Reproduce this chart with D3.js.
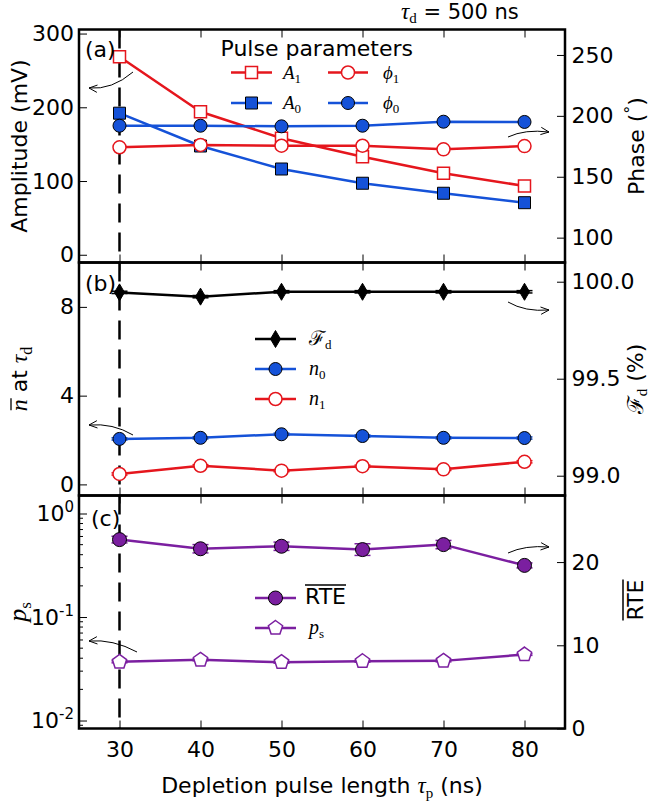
<!DOCTYPE html>
<html><head><meta charset="utf-8">
<script src="https://cdn.jsdelivr.net/npm/d3@7"></script>
<style>body{margin:0;background:#fff}svg{display:block}</style>
</head><body>
<script>
// ---------------- DATA ----------------
const taus = [30, 40, 50, 60, 70, 80];            // depletion pulse length (ns)
const xTicks = [30, 40, 50, 60, 70, 80];
// panel (a)
const A1   = [268.6, 194, 158, 133, 110.5, 93.3];  // mV
const A0   = [192, 147.5, 116.3, 97, 83.4, 70.6];  // mV
const phi1 = [174.2, 176.1, 175.5, 175.5, 172.5, 175.2]; // deg
const phi0 = [191.9, 191.9, 191.4, 191.9, 195.2, 195.0]; // deg
const ampTicks = [0, 100, 200, 300];
const phaseTicks = [100, 150, 200, 250];
// panel (b)
const Fd    = [99.945, 99.923, 99.948, 99.948, 99.948, 99.948]; // %
const FdErr = [0.006, 0.006, 0.006, 0.006, 0.006, 0.006];
const n0    = [2.05, 2.10, 2.26, 2.18, 2.10, 2.09];
const n0Err = [0.05, 0.05, 0.05, 0.05, 0.05, 0.05];
const n1    = [0.47, 0.84, 0.62, 0.82, 0.68, 1.02];
const n1Err = [0.05, 0.05, 0.05, 0.05, 0.05, 0.05];
const nTicks = [0, 4, 8];
const fdTicks = [99.0, 99.5, 100.0];
// panel (c)
const RTE    = [22.7, 21.6, 21.9, 21.5, 22.1, 19.6];
const RTEErr = [0.4, 0.5, 0.5, 0.7, 0.5, 0.3];
const ps     = [0.0369, 0.0386, 0.0366, 0.0374, 0.0377, 0.0434];
const psErr  = [0.0008, 0.0008, 0.0008, 0.0008, 0.0008, 0.0008];
const psTicks = [0.01, 0.1, 1];
const psTickExp = ["-2", "-1", "0"];
const rteTicks = [0, 10, 20];

// ---------------- SETUP ----------------
const W = 648, H = 806;
const SANS = "'DejaVu Sans', sans-serif";
const SERIF = "'Liberation Serif', 'DejaVu Serif', serif";
const RED = "#e5161d", BLUE = "#1552d8", PURPLE = "#7b1fa0";
const svg = d3.select("body").append("svg").attr("width", W).attr("height", H);

const L = 79, R = 565;
const P = { a: [29.5, 262.5], b: [262.5, 495.5], c: [495.5, 728.5] };
const x = d3.scaleLinear().domain([25, 85]).range([L, R]);
const yA  = d3.scaleLinear().domain([-10.5, 305.5]).range([P.a[1], P.a[0]]);
const yPh = d3.scaleLinear().domain([79.6, 270.9]).range([P.a[1], P.a[0]]);
const yN  = d3.scaleLinear().domain([-0.5, 10]).range([P.b[1], P.b[0]]);
const yF  = d3.scaleLinear().domain([98.898, 100.099]).range([P.b[1], P.b[0]]);
const yP  = d3.scaleLog().domain([Math.pow(10, -2.077), Math.pow(10, 0.174)]).range([P.c[1], P.c[0]]);
const yR  = d3.scaleLinear().domain([0, 28]).range([P.c[1], P.c[0]]);

const sq = d3.symbol(d3.symbolSquare, 12 * 12)();
const circ = d3.symbol(d3.symbolCircle, Math.PI * 6.5 * 6.5)();
const circL = d3.symbol(d3.symbolCircle, Math.PI * 7 * 7)();
const thinDiamond = "M0,-8.5L5,0L0,8.5L-5,0Z";
const pent = "M" + d3.range(5).map(i => {
  const a = -Math.PI / 2 + i * 2 * Math.PI / 5;
  return [7.5 * Math.cos(a), 7.5 * Math.sin(a)].join(",");
}).join("L") + "Z";

const styles = {
  A1:   { color: RED,    shape: sq,    fill: "#fff", edge: RED,   ew: 1.5 },
  A0:   { color: BLUE,   shape: sq,    fill: BLUE,   edge: "#000", ew: 1 },
  phi1: { color: RED,    shape: circ,  fill: "#fff", edge: RED,   ew: 1.5 },
  phi0: { color: BLUE,   shape: circ,  fill: BLUE,   edge: "#000", ew: 1 },
  Fd:   { color: "#000", shape: thinDiamond, fill: "#000", edge: "#000", ew: 1 },
  n0:   { color: BLUE,   shape: circ,  fill: BLUE,   edge: "#000", ew: 1 },
  n1:   { color: RED,    shape: circ,  fill: "#fff", edge: RED,   ew: 1.5 },
  RTE:  { color: PURPLE, shape: circL, fill: PURPLE, edge: "#000", ew: 1 },
  ps:   { color: PURPLE, shape: pent,  fill: "#fff", edge: PURPLE, ew: 1.5 }
};

// ---------------- helpers ----------------
function mtext(parent, parts, attrs) {
  const t = parent.append("text");
  Object.entries(attrs || {}).forEach(([k, v]) => t.attr(k, v));
  let cur = 0;
  parts.forEach(p => {
    const ts = t.append("tspan").text(p.t)
      .attr("font-size", p.s || 22)
      .attr("font-family", p.f === "sans" ? SANS : SERIF)
      .attr("font-style", p.i ? "italic" : "normal");
    const target = p.sub ? p.sub : (p.sup ? -p.sup : 0);
    if (target !== cur) { ts.attr("dy", target - cur); cur = target; }
  });
  return t;
}

function drawSeries(ys, vals, errs, st) {
  const g = svg.append("g");
  const pts = taus.map((t, i) => [x(t), ys(vals[i])]);
  g.append("path").attr("d", d3.line()(pts)).attr("fill", "none")
    .attr("stroke", st.color).attr("stroke-width", 2.5).attr("stroke-linejoin", "round");
  if (errs) {
    taus.forEach((t, i) => {
      const cx = x(t), y1 = ys(vals[i] - errs[i]), y2 = ys(vals[i] + errs[i]);
      g.append("line").attr("x1", cx).attr("x2", cx).attr("y1", y1).attr("y2", y2)
        .attr("stroke", st.color).attr("stroke-width", 1.5);
      [y1, y2].forEach(yy => g.append("line").attr("x1", cx - 8).attr("x2", cx + 8)
        .attr("y1", yy).attr("y2", yy).attr("stroke", st.color).attr("stroke-width", 1.5));
    });
  }
  g.selectAll(null).data(pts).join("path")
    .attr("transform", d => `translate(${d[0]},${d[1]})`)
    .attr("d", st.shape).attr("fill", st.fill).attr("stroke", st.edge).attr("stroke-width", st.ew);
}

function legendEntry(x0, x1, y, st, parts, lx) {
  svg.append("line").attr("x1", x0).attr("x2", x1).attr("y1", y).attr("y2", y)
    .attr("stroke", st.color).attr("stroke-width", 2.5);
  svg.append("path").attr("transform", `translate(${(x0 + x1) / 2},${y})`)
    .attr("d", st.shape).attr("fill", st.fill).attr("stroke", st.edge).attr("stroke-width", st.ew);
  return mtext(svg, parts, { x: lx, y: y + 6 });
}

function yAxis(scale, side, ticks, fmt) {
  const ax = (side === "left" ? d3.axisLeft(scale) : d3.axisRight(scale))
    .tickValues(ticks).tickSize(-8).tickPadding(side === "left" ? 5 : 6.5).tickFormat(fmt);
  const g = svg.append("g").attr("transform", `translate(${side === "left" ? L : R},0)`).call(ax);
  g.select(".domain").remove();
  g.selectAll("text").attr("font-family", SANS).attr("font-size", 22).attr("fill", "#000");
  g.selectAll("line").attr("stroke", "#000").attr("stroke-width", 1);
  return g;
}

function xAxes(top, bottom, labels) {
  const gt = svg.append("g").attr("transform", `translate(0,${top})`)
    .call(d3.axisTop(x).tickValues(xTicks).tickSize(-8).tickFormat(""));
  const gb = svg.append("g").attr("transform", `translate(0,${bottom})`)
    .call(d3.axisBottom(x).tickValues(xTicks).tickSize(-8).tickPadding(13)
      .tickFormat(labels ? d3.format("d") : ""));
  [gt, gb].forEach(g => {
    g.select(".domain").remove();
    g.selectAll("line").attr("stroke", "#000").attr("stroke-width", 1);
    g.selectAll("text").attr("font-family", SANS).attr("font-size", 22).attr("fill", "#000");
  });
}

function curvedArrow(t, c, h) {
  svg.append("path").attr("d", `M${t[0]},${t[1]}Q${c[0]},${c[1]} ${h[0]},${h[1]}`)
    .attr("fill", "none").attr("stroke", "#000").attr("stroke-width", 1);
  const ang = Math.atan2(h[1] - c[1], h[0] - c[0]);
  const len = 9, a = 0.42;
  const p1 = [h[0] - len * Math.cos(ang - a), h[1] - len * Math.sin(ang - a)];
  const p2 = [h[0] - len * Math.cos(ang + a), h[1] - len * Math.sin(ang + a)];
  svg.append("path").attr("d", `M${p1}L${h}L${p2}`).attr("fill", "none")
    .attr("stroke", "#000").attr("stroke-width", 1);
}

function rotLabel(cx, cy, parts) {
  const g = svg.append("g").attr("transform", `translate(${cx},${cy}) rotate(-90)`);
  const t = mtext(g, parts, { x: 0, y: 0, "text-anchor": "middle" });
  return { g, t };
}

// ---------------- axes ----------------
xAxes(P.a[0], P.a[1], false);
xAxes(P.b[0], P.b[1], false);
xAxes(P.c[0], P.c[1], true);

yAxis(yA, "left", ampTicks, d3.format("d"));
yAxis(yPh, "right", phaseTicks, d3.format("d"));
yAxis(yN, "left", nTicks, d3.format("d"));
yAxis(yF, "right", fdTicks, d3.format(".1f"));
yAxis(yR, "right", rteTicks, d3.format("d"));
const gLog = yAxis(yP, "left", psTicks, () => "");
gLog.selectAll(".tick text").each(function (d, i) {
  const t = d3.select(this);
  t.append("tspan").text("10").attr("font-size", 22);
  t.append("tspan").text(psTickExp[i]).attr("font-size", 15).attr("dy", -9);
});
// minor log ticks
const minor = yP.ticks().filter(v => !psTicks.some(m => Math.abs(m - v) < 1e-12));
svg.append("g").selectAll("line").data(minor).join("line")
  .attr("x1", L).attr("x2", L + 4).attr("y1", d => yP(d)).attr("y2", d => yP(d))
  .attr("stroke", "#000").attr("stroke-width", 1);

// ---------------- dashed line at tau_p = 30 ----------------
Object.values(P).forEach(([t0, t1]) => {
  svg.append("line").attr("x1", x(30)).attr("x2", x(30)).attr("y1", t0).attr("y2", t1)
    .attr("stroke", "#000").attr("stroke-width", 2.5).attr("stroke-dasharray", "19,10");
});

// ---------------- series ----------------
drawSeries(yA, A1, null, styles.A1);
drawSeries(yA, A0, null, styles.A0);
drawSeries(yPh, phi1, null, styles.phi1);
drawSeries(yPh, phi0, null, styles.phi0);

drawSeries(yN, n0, n0Err, styles.n0);
drawSeries(yN, n1, n1Err, styles.n1);
drawSeries(yF, Fd, FdErr, styles.Fd);

drawSeries(yP, ps, psErr, styles.ps);
drawSeries(yR, RTE, RTEErr, styles.RTE);

// ---------------- spines ----------------
Object.values(P).forEach(([t0, t1]) => {
  svg.append("rect").attr("x", L).attr("y", t0).attr("width", R - L).attr("height", t1 - t0)
    .attr("fill", "none").attr("stroke", "#000").attr("stroke-width", 2.5);
});

// ---------------- legends ----------------
svg.append("text").attr("x", 220.5).attr("y", 56).attr("font-family", SANS).attr("font-size", 22)
  .text("Pulse parameters");
legendEntry(231, 272, 72.5, styles.A1, [{ t: "A", i: true, s: 19 }, { t: "1", s: 13, sub: 4 }], 283);
legendEntry(328, 368, 72.5, styles.phi1, [{ t: "ϕ", i: true, s: 19 }, { t: "1", s: 13, sub: 4 }], 383);
legendEntry(231, 272, 103, styles.A0, [{ t: "A", i: true, s: 19 }, { t: "0", s: 13, sub: 4 }], 283);
legendEntry(328, 368, 103, styles.phi0, [{ t: "ϕ", i: true, s: 19 }, { t: "0", s: 13, sub: 4 }], 383);

legendEntry(255, 296, 339, styles.Fd, [{ t: "ℱ", s: 20 }, { t: "d", s: 13, sub: 4 }], 309);
legendEntry(255, 296, 369, styles.n0, [{ t: "n", i: true, s: 20 }, { t: "0", s: 13, sub: 4 }], 309);
legendEntry(255, 296, 399, styles.n1, [{ t: "n", i: true, s: 20 }, { t: "1", s: 13, sub: 4 }], 309);

const rteLeg = legendEntry(255, 296, 598, styles.RTE, [{ t: "RTE", f: "sans", s: 22 }], 305);
{
  const len = rteLeg.node().getComputedTextLength();
  svg.append("line").attr("x1", 305).attr("x2", 305 + len).attr("y1", 604 - 19).attr("y2", 604 - 19)
    .attr("stroke", "#000").attr("stroke-width", 1.5);
}
legendEntry(255, 296, 628, styles.ps, [{ t: "p", i: true, s: 20 }, { t: "s", s: 13, sub: 4 }], 309);

// ---------------- panel letters ----------------
[["(a)", 85, 57], ["(b)", 85, 290.5], ["(c)", 91, 525.5]].forEach(([s, xx, yy]) =>
  svg.append("text").attr("x", xx).attr("y", yy).attr("font-family", SANS).attr("font-size", 22).text(s));

// ---------------- title ----------------
mtext(svg, [{ t: "τ", i: true, s: 23 }, { t: "d", s: 15, sub: 4 }, { t: " = 500 ns", f: "sans", s: 21 }],
  { x: 401, y: 18.5 });

// ---------------- axis labels ----------------
rotLabel(26.5, (P.a[0] + P.a[1]) / 2, [{ t: "Amplitude (mV)", f: "sans", s: 22 }]);
rotLabel(643.5, (P.a[0] + P.a[1]) / 2, [{ t: "Phase (", f: "sans", s: 22 }, { t: "°", f: "sans", s: 16, sup: 8 }, { t: ")", f: "sans", s: 22 }]);
{
  const { g, t } = rotLabel(27, (P.b[0] + P.b[1]) / 2,
    [{ t: "n", i: true, s: 24 }, { t: " at ", f: "sans", s: 22 }, { t: "τ", i: true, s: 24 }, { t: "d", s: 16, sub: 5 }]);
  const n = t.node();
  const s0 = n.getStartPositionOfChar(0).x, e0 = n.getEndPositionOfChar(0).x;
  g.append("line").attr("x1", s0 + 1).attr("x2", e0 + 1).attr("y1", -16).attr("y2", -16)
    .attr("stroke", "#000").attr("stroke-width", 1.3);
}
rotLabel(642.5, (P.b[0] + P.b[1]) / 2, [{ t: "ℱ", s: 22 }, { t: "d", s: 15, sub: 4 }, { t: " (%)", f: "sans", s: 22 }]);
rotLabel(26, (P.c[0] + P.c[1]) / 2, [{ t: "p", i: true, s: 26 }, { t: "s", s: 17, sub: 5 }]);
{
  const { g, t } = rotLabel(642.5, 600, [{ t: "RTE", f: "sans", s: 22 }]);
  const len = t.node().getComputedTextLength();
  g.append("line").attr("x1", -len / 2).attr("x2", len / 2).attr("y1", -19.5).attr("y2", -19.5)
    .attr("stroke", "#000").attr("stroke-width", 1.5);
}
mtext(svg, [{ t: "Depletion pulse length ", f: "sans", s: 22 }, { t: "τ", i: true, s: 23 }, { t: "p", s: 15, sub: 5 }, { t: " (ns)", f: "sans", s: 22 }],
  { x: (L + R) / 2, y: 793, "text-anchor": "middle" });

// ---------------- curved arrows ----------------
curvedArrow([133, 72], [112, 90], [89, 88]);
curvedArrow([508, 137], [525, 129], [549, 132]);
curvedArrow([508, 302], [525, 312], [549, 310]);
curvedArrow([133, 435], [113, 423], [89, 425]);
curvedArrow([508, 553], [525, 545], [549, 547]);
curvedArrow([137, 652], [113, 639], [89, 641]);
</script>
</body></html>
